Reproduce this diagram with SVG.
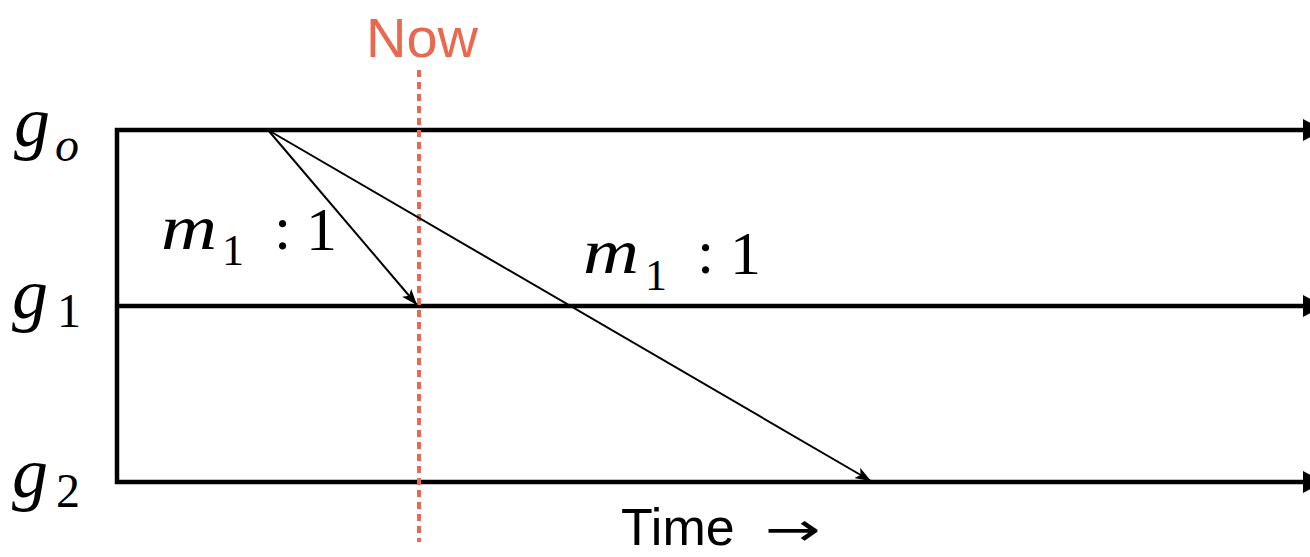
<svg xmlns="http://www.w3.org/2000/svg" width="1310" height="557" viewBox="0 0 1310 557">
<style>
.axis{stroke:#000;stroke-width:4.5;fill:none}
.msg{stroke:#000;stroke-width:2;fill:none}
</style>
<defs>
<marker id="ah" viewBox="0 0 20 22" refX="20" refY="11" markerWidth="20" markerHeight="22" markerUnits="userSpaceOnUse" orient="auto">
<path d="M0,0 L20,11 L0,22 Z" fill="#000"/>
</marker>
<marker id="sh" viewBox="0 0 16 12" refX="16" refY="6" markerWidth="16" markerHeight="12" markerUnits="userSpaceOnUse" orient="auto">
<path d="M0,0 L16,6 L0,12 L4,6 Z" fill="#000"/>
</marker>
</defs>
<g id="timelines">
<g id="node-g0"><line class="axis" x1="115" y1="130" x2="1323" y2="130" marker-end="url(#ah)"/>
<text font-family="Liberation Serif, serif" font-style="italic" x="14" y="146" font-size="72">g</text><text font-family="Liberation Serif, serif" font-style="italic" x="55" y="161" font-size="48">o</text></g>
<g id="node-g1"><line class="axis" x1="115" y1="306" x2="1323" y2="306" marker-end="url(#ah)"/>
<text font-family="Liberation Serif, serif" font-style="italic" x="12" y="318" font-size="72">g</text><text font-family="Liberation Serif, serif" x="57" y="327" font-size="48">1</text></g>
<g id="node-g2"><line class="axis" x1="115" y1="482" x2="1323" y2="482" marker-end="url(#ah)"/>
<text font-family="Liberation Serif, serif" font-style="italic" x="12" y="497" font-size="72">g</text><text font-family="Liberation Serif, serif" x="56" y="507" font-size="48">2</text></g>
<line class="axis" x1="117" y1="128" x2="117" y2="484"/>
</g>
<g id="now">
<line x1="419" y1="70" x2="419" y2="542" stroke="#E46B57" stroke-width="4" stroke-dasharray="7,5"/>
<text x="422" y="57" font-size="56" fill="#E8694F" text-anchor="middle" font-family="Liberation Sans, Arial, sans-serif">Now</text>
</g>
<g id="connectors">
<line class="msg" x1="268" y1="130" x2="417" y2="305" marker-end="url(#sh)"/>
<line class="msg" x1="268" y1="130" x2="871" y2="481" marker-end="url(#sh)"/>
</g>
<g id="labels" font-family="Liberation Serif, serif">
<g id="label-1">
<text font-style="italic" x="161" y="249" font-size="64" textLength="56" lengthAdjust="spacingAndGlyphs">m</text>
<text x="222" y="265" font-size="44">1</text>
<text x="274" y="249" font-size="62">:</text>
<text x="306" y="250" font-size="62">1</text>
</g>
<g id="label-2">
<text font-style="italic" x="583" y="273" font-size="64" textLength="56" lengthAdjust="spacingAndGlyphs">m</text>
<text x="645" y="290" font-size="44">1</text>
<text x="697" y="273" font-size="62">:</text>
<text x="730" y="274" font-size="62">1</text>
</g>
</g>
<g id="time-label">
<text font-family="Liberation Sans, Arial, sans-serif" x="621" y="545" font-size="52">Time</text>
<text font-family="DejaVu Sans, sans-serif" x="765" y="545" font-size="46" textLength="56" lengthAdjust="spacingAndGlyphs">→</text>
</g>
</svg>
